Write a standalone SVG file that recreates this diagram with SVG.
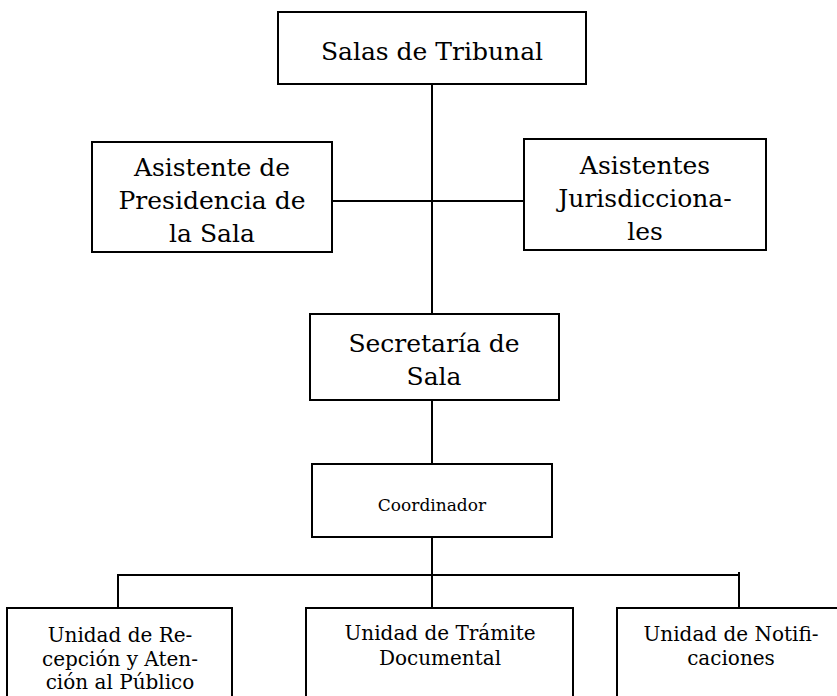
<svg xmlns="http://www.w3.org/2000/svg" width="837" height="696" viewBox="0 0 837 696">
<style>
.box{fill:#fff;stroke:#000;stroke-width:2}
.ln{fill:none;stroke:#000;stroke-width:2}
text{font-family:"DejaVu Serif","Liberation Serif",serif;fill:#000;text-anchor:middle}
.big{font-size:25px}
.mid{font-size:17px}
.sm{font-size:20px}
</style>
<rect width="837" height="696" fill="#fff"/>
<g id="connectors">
<line class="ln" x1="432" y1="84" x2="432" y2="314"/>
<line class="ln" x1="332" y1="201" x2="524" y2="201"/>
<line class="ln" x1="432" y1="400" x2="432" y2="464"/>
<line class="ln" x1="432" y1="537" x2="432" y2="608"/>
<polyline class="ln" points="118,608 118,575 739,575"/>
<line class="ln" x1="739" y1="572" x2="739" y2="608"/>
</g>
<g id="salas">
<rect class="box" x="278" y="12" width="308" height="72"/>
<text class="big" x="432" y="60">Salas de Tribunal</text>
</g>
<g id="asistente-presidencia">
<rect class="box" x="92" y="142" width="240" height="110"/>
<text class="big" x="212" y="176">Asistente de</text>
<text class="big" x="212" y="209">Presidencia de</text>
<text class="big" x="212" y="242">la Sala</text>
</g>
<g id="asistentes-jurisdiccionales">
<rect class="box" x="524" y="139" width="242" height="111"/>
<text class="big" x="645" y="174">Asistentes</text>
<text class="big" x="645" y="207">Jurisdicciona-</text>
<text class="big" x="645" y="240">les</text>
</g>
<g id="secretaria">
<rect class="box" x="310" y="314" width="249" height="86"/>
<text class="big" x="434" y="352">Secretaría de</text>
<text class="big" x="434" y="385">Sala</text>
</g>
<g id="coordinador">
<rect class="box" x="312" y="464" width="240" height="73"/>
<text class="mid" x="432" y="511">Coordinador</text>
</g>
<g id="recepcion">
<rect class="box" x="7" y="608" width="225" height="100"/>
<text class="sm" x="120" y="642">Unidad de Re-</text>
<text class="sm" x="120" y="666">cepción y Aten-</text>
<text class="sm" x="120" y="689">ción al Público</text>
</g>
<g id="tramite">
<rect class="box" x="306" y="608" width="267" height="100"/>
<text class="sm" x="440" y="640">Unidad de Trámite</text>
<text class="sm" x="440" y="665">Documental</text>
</g>
<g id="notificaciones">
<rect class="box" x="617" y="608" width="240" height="100"/>
<text class="sm" x="731" y="641">Unidad de Notifi-</text>
<text class="sm" x="731" y="665">caciones</text>
</g>
</svg>
